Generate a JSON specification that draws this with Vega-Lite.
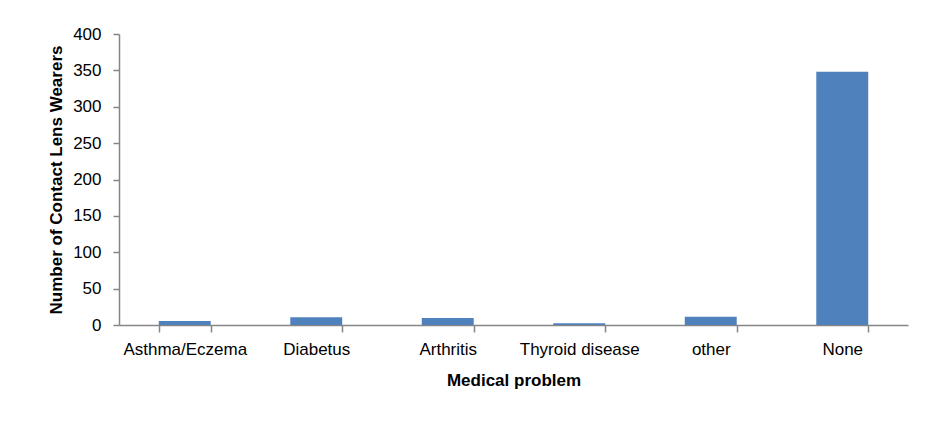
{
  "$schema": "https://vega.github.io/schema/vega-lite/v6.json",
  "autosize": {"type": "none"},
  "width": 789,
  "height": 291,
  "padding": {"left": 119, "top": 34, "right": 18, "bottom": 99},
  "background": "white",
  "config": {
    "view": {"stroke": null},
    "font": "Liberation Sans, Arial, sans-serif"
  },
  "data": {
    "values": [
      {"problem": "Asthma/Eczema", "count": 5.5},
      {"problem": "Diabetus", "count": 10.5},
      {"problem": "Arthritis", "count": 9.5},
      {"problem": "Thyroid disease", "count": 2.3},
      {"problem": "other", "count": 11.4},
      {"problem": "None", "count": 348}
    ]
  },
  "mark": {"type": "bar", "color": "#4F81BD"},
  "encoding": {
    "x": {
      "field": "problem",
      "type": "nominal",
      "sort": null,
      "scale": {"paddingInner": 0.605, "paddingOuter": 0.3025},
      "axis": {
        "title": "Medical problem",
        "titleFontSize": 17,
        "titleFontWeight": "bold",
        "titleColor": "#000000",
        "titlePadding": 15,
        "labelAngle": 0,
        "labelFontSize": 17,
        "labelColor": "#000000",
        "labelPadding": 9,
        "tickBand": "extent",
        "tickSize": 7,
        "tickColor": "#868686",
        "domainColor": "#868686",
        "domainWidth": 1.5,
        "tickWidth": 1.5
      }
    },
    "y": {
      "field": "count",
      "type": "quantitative",
      "scale": {"domain": [0, 400], "nice": false},
      "axis": {
        "title": "Number of Contact Lens Wearers",
        "titleFontSize": 17,
        "titleFontWeight": "bold",
        "titleColor": "#000000",
        "titlePadding": 7,
        "values": [0, 50, 100, 150, 200, 250, 300, 350, 400],
        "grid": false,
        "labelFontSize": 17,
        "labelColor": "#000000",
        "labelPadding": 12,
        "tickSize": 6,
        "tickColor": "#868686",
        "domainColor": "#868686",
        "domainWidth": 1.5,
        "tickWidth": 1.5
      }
    }
  }
}
